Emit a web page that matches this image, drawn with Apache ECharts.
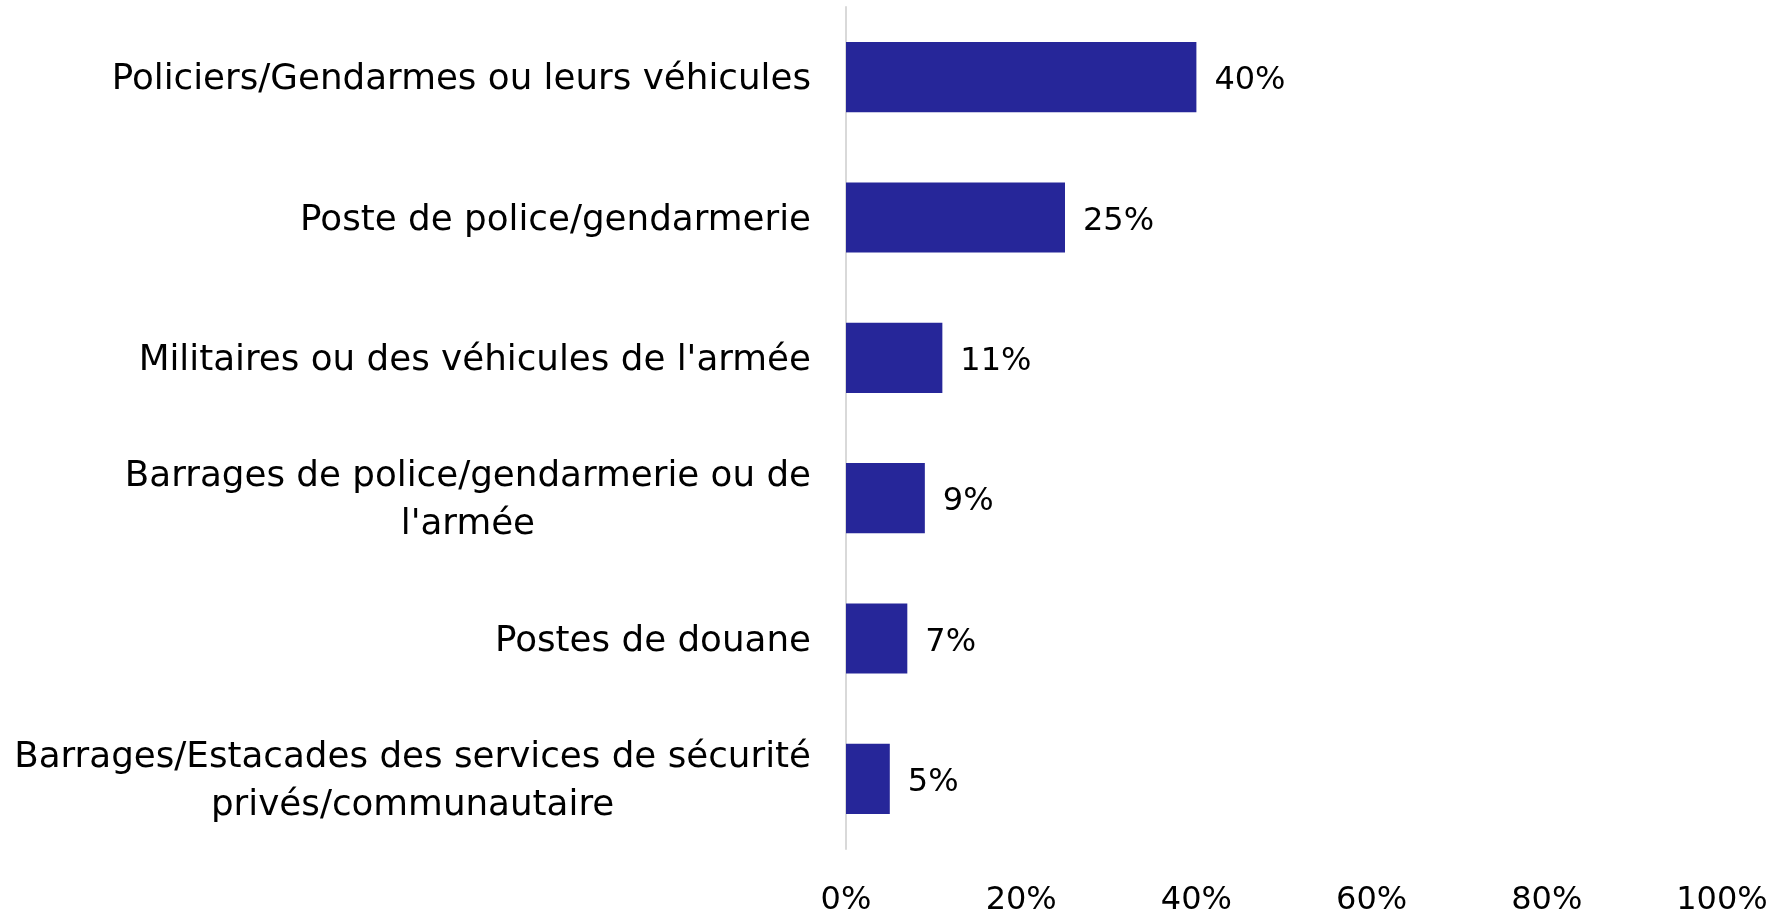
<!DOCTYPE html>
<html>
<head>
<meta charset="utf-8">
<script src="https://cdn.jsdelivr.net/npm/echarts@6/dist/echarts.min.js"></script>
<style>
html,body{margin:0;padding:0;background:#fff;}
#chart{width:1781px;height:918px;}
</style>
</head>
<body>
<div id="chart"></div>
<script>
const categories = [
  "Policiers/Gendarmes ou leurs véhicules",
  "Poste de police/gendarmerie",
  "Militaires ou des véhicules de l'armée",
  "Barrages de police/gendarmerie ou de\nl'armée",
  "Postes de douane",
  "Barrages/Estacades des services de sécurité\nprivés/communautaire"
];
const values = [40, 25, 11, 9, 7, 5];
const xTicks = [0, 20, 40, 60, 80, 100];

const FONT = "DejaVu Sans";
const FS_CAT = 35.7;
const FS_NUM = 32;
const chart = echarts.init(document.getElementById('chart'), null, {renderer: 'canvas'});
chart.setOption({
  animation: false,
  backgroundColor: '#ffffff',
  grid: {left: 846, right: 59, top: 7, bottom: 69, containLabel: false},
  xAxis: {
    type: 'value',
    min: xTicks[0],
    max: xTicks[xTicks.length - 1],
    interval: 20,
    axisLine: {show: false},
    axisTick: {show: false},
    splitLine: {show: false},
    axisLabel: {
      formatter: v => v + '%',
      fontFamily: FONT,
      fontSize: FS_NUM,
      color: '#000',
      margin: 36
    }
  },
  yAxis: {
    type: 'category',
    data: categories,
    inverse: true,
    axisLine: {show: true, lineStyle: {color: '#d9d9d9', width: 2}},
    axisTick: {show: false},
    axisLabel: {
      fontFamily: FONT,
      fontSize: FS_CAT,
      color: '#000',
      margin: 35,
      align: 'right',
      lineHeight: 48,
      padding: [6, 0, 0, 0],
      formatter: v => v.split('\n').map(s => '{c|' + s + '}').join('\n'),
      rich: {
        c: {align: 'center', fontFamily: FONT, fontSize: FS_CAT, lineHeight: 48, color: '#000'}
      }
    }
  },
  series: [{
    type: 'bar',
    data: values,
    barCategoryGap: '50%',
    itemStyle: {color: '#262699'},
    label: {
      show: true,
      position: 'right',
      distance: 18,
      offset: [0, 4],
      formatter: p => p.value + '%',
      fontFamily: FONT,
      fontSize: FS_NUM,
      color: '#000'
    }
  }]
});
</script>
</body>
</html>
